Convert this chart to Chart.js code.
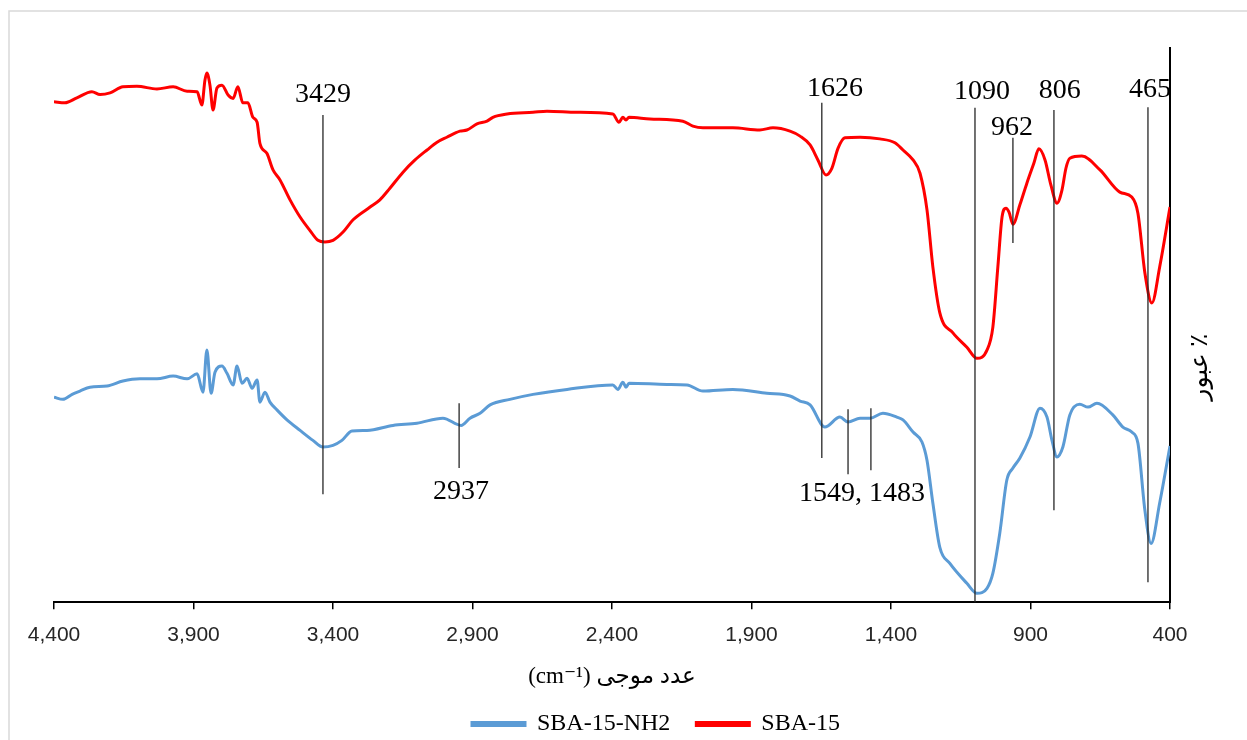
<!DOCTYPE html>
<html>
<head>
<meta charset="utf-8">
<script src="https://cdn.jsdelivr.net/npm/chart.js@4/dist/chart.umd.min.js"></script>
<style>
    html, body { margin: 0; padding: 0; background: #fff; }
    #wrap { width: 1247px; height: 740px; position: relative; }
</style>
</head>
<body>
<div id="wrap"><canvas id="ftirChart" width="1247" height="740"></canvas></div>
<script>
// SBA-15 (red) - wavenumber (cm-1) and transmittance
const redWave = [4400, 4361, 4318, 4264, 4235, 4199, 4153, 4103, 4031, 3973, 3923, 3887, 3870, 3859, 3852, 3841, 3830, 3816, 3798, 3776,
    3758, 3741, 3723, 3705, 3687, 3672, 3662, 3637, 3615, 3590, 3554, 3518, 3483, 3454, 3429, 3400, 3364, 3328, 3267, 3232,
    3196, 3149, 3106, 3063, 3027, 2992, 2945, 2920, 2884, 2848, 2827, 2776, 2683, 2633, 2526, 2397, 2375, 2361, 2350, 2339,
    2264, 2146, 2110, 2074, 1967, 1870, 1823, 1762, 1726, 1690, 1662, 1633, 1612, 1590, 1565, 1511, 1440, 1386, 1357, 1321,
    1296, 1271, 1250, 1225, 1178, 1128, 1092, 1056, 1035, 1017, 1002, 988, 977, 963, 938, 913, 888, 870, 848, 827,
    805, 787, 773, 759, 716, 651, 580, 537, 515, 490, 465, 437, 400];
const redT = [90.3, 90.1, 91.0, 92.1, 91.6, 91.9, 93.0, 93.1, 92.6, 93.0, 92.2, 92.1, 89.7, 94.2, 95.5, 93.3, 88.8, 92.8, 93.3, 91.5,
    90.9, 93.0, 90.1, 90.1, 87.5, 86.6, 82.8, 81.0, 78.0, 76.2, 72.6, 69.5, 67.1, 65.3, 65.0, 65.3, 66.8, 69.0, 71.3, 72.6,
    74.7, 77.6, 79.8, 81.6, 83.0, 83.9, 85.0, 85.2, 86.3, 86.8, 87.5, 88.1, 88.4, 88.6, 88.4, 88.1, 86.6, 87.5, 87.0, 87.5,
    87.2, 86.8, 85.9, 85.6, 85.6, 85.2, 85.6, 85.0, 84.1, 82.5, 79.8, 77.1, 78.3, 81.9, 83.8, 83.9, 83.6, 82.9, 81.6, 79.8,
    77.4, 70.8, 60.5, 52.2, 48.6, 46.0, 44.0, 45.5, 49.6, 60.5, 69.5, 71.1, 70.4, 68.2, 71.7, 75.6, 79.2, 81.8, 79.8, 75.3,
    72.0, 74.4, 78.3, 80.1, 80.5, 78.0, 74.0, 73.1, 70.2, 59.4, 54.0, 60.5, 71.3];

// SBA-15-NH2 (blue)
const blueWave = [4400, 4368, 4335, 4307, 4271, 4210, 4153, 4092, 4031, 3973, 3923, 3887, 3866, 3852, 3837, 3823, 3798, 3780, 3758, 3744,
    3726, 3708, 3690, 3672, 3662, 3644, 3626, 3601, 3565, 3518, 3472, 3436, 3400, 3368, 3332, 3278, 3185, 3099, 3006, 2941,
    2909, 2873, 2837, 2766, 2683, 2561, 2397, 2379, 2361, 2350, 2339, 2203, 2131, 2074, 1967, 1845, 1762, 1726, 1690, 1637,
    1583, 1554, 1511, 1475, 1429, 1379, 1357, 1321, 1289, 1271, 1250, 1225, 1189, 1128, 1092, 1056, 1035, 1010, 985, 963,
    938, 902, 866, 841, 823, 805, 784, 759, 723, 694, 662, 605, 569, 537, 515, 490, 468, 437, 400];
const blueT = [37.0, 36.6, 37.5, 38.1, 38.8, 39.0, 39.9, 40.3, 40.3, 40.8, 40.3, 41.2, 37.9, 45.5, 37.7, 41.5, 42.6, 41.3, 39.2, 42.6,
    39.5, 40.4, 38.6, 40.1, 36.1, 37.9, 36.1, 34.7, 32.9, 31.0, 29.2, 28.0, 28.3, 29.2, 30.9, 31.0, 31.9, 32.3, 33.2, 31.9,
    33.2, 34.1, 35.6, 36.6, 37.5, 38.4, 39.2, 38.4, 39.7, 38.8, 39.5, 39.3, 39.2, 38.1, 38.4, 37.7, 37.2, 36.3, 35.6, 31.6,
    33.4, 32.5, 33.2, 33.2, 34.1, 33.4, 32.9, 30.7, 28.9, 25.6, 17.9, 9.9, 7.0, 3.4, 1.6, 2.5, 5.2, 12.5, 22.0, 24.2,
    26.0, 29.8, 35.0, 33.4, 29.2, 26.2, 28.0, 33.8, 35.7, 35.2, 35.9, 33.8, 31.6, 30.7, 28.7, 16.6, 10.6, 17.9, 28.2];

const xTicks = [4400, 3900, 3400, 2900, 2400, 1900, 1400, 900, 400];

// peak marker lines (wavenumber, transmittance from / to)
const markWave = [3436, 1648, 1099, 963, 816, 479, 2948, 1554, 1472];
const markTop = [87.9, 90.1, 89.2, 83.8, 88.8, 89.3, 35.9, 34.8, 35.0];
const markBottom = [19.5, 26.0, 0, 64.8, 16.6, 3.6, 24.2, 23.1, 23.8];

// peak labels
const peakText = ['3429', '1626', '1090', '962', '806', '465', '2937', '1549, 1483'];
const peakWave = [3436, 1601, 1074, 966, 795, 472, 2941, 1504];
const peakT = [91.6, 92.7, 92.1, 85.6, 92.3, 92.5, 19.9, 19.6];

function toPoints(xs, ys) {
    return xs.map((x, i) => ({ x: x, y: ys[i] }));
}

const peakMarks = {
    id: 'peakMarks',
    afterDatasetsDraw(chart) {
        const ctx = chart.ctx;
        const xs = chart.scales.x, ys = chart.scales.y;
        ctx.save();
        ctx.strokeStyle = '#262626';
        ctx.lineWidth = 1.3;
        markWave.forEach((w, i) => {
            const px = xs.getPixelForValue(w);
            ctx.beginPath();
            ctx.moveTo(px, ys.getPixelForValue(markTop[i]));
            ctx.lineTo(px, ys.getPixelForValue(markBottom[i]));
            ctx.stroke();
        });
        ctx.fillStyle = '#000';
        ctx.font = '28px "Liberation Serif", "Times New Roman", serif';
        ctx.textAlign = 'center';
        ctx.textBaseline = 'middle';
        peakText.forEach((t, i) => {
            ctx.fillText(t, xs.getPixelForValue(peakWave[i]), ys.getPixelForValue(peakT[i]));
        });
        ctx.restore();
    }
};

// frame, right-hand axis title and legend position
const decor = {
    id: 'decor',
    beforeDraw(chart) {
        const ctx = chart.ctx;
        ctx.save();
        ctx.fillStyle = '#fff';
        ctx.fillRect(0, 0, chart.width, chart.height);
        ctx.strokeStyle = '#d9d9d9';
        ctx.lineWidth = 1.5;
        ctx.beginPath();
        ctx.moveTo(9, chart.height);
        ctx.lineTo(9, 11);
        ctx.lineTo(chart.width, 11);
        ctx.stroke();
        ctx.restore();
    },
    afterLayout(chart) {
        chart.legend.left += 44;
        chart.legend.right += 44;
        chart.legend.top -= 9;
        chart.legend.bottom -= 9;
    },
    afterDraw(chart) {
        const ctx = chart.ctx;
        const area = chart.chartArea;
        ctx.save();
        ctx.translate(area.right + 30, (area.top + area.bottom) / 2 + 42);
        ctx.rotate(-Math.PI / 2);
        ctx.direction = 'rtl';
        ctx.fillStyle = '#000';
        ctx.font = '25px "Liberation Serif", "DejaVu Sans", serif';
        ctx.textAlign = 'center';
        ctx.textBaseline = 'middle';
        ctx.fillText('٪ عبور', 0, 0);
        ctx.restore();
    }
};

new Chart(document.getElementById('ftirChart'), {
    type: 'line',
    data: {
        datasets: [{
            label: 'SBA-15-NH2',
            data: toPoints(blueWave, blueT),
            borderColor: '#5B9BD5',
            backgroundColor: '#5B9BD5',
            borderWidth: 3,
            pointRadius: 0,
            cubicInterpolationMode: 'monotone'
        }, {
            label: 'SBA-15',
            data: toPoints(redWave, redT),
            borderColor: '#FF0000',
            backgroundColor: '#FF0000',
            borderWidth: 3,
            pointRadius: 0,
            cubicInterpolationMode: 'monotone'
        }]
    },
    options: {
        responsive: false,
        animation: false,
        layout: {
            padding: { top: 48, left: 54, right: 77, bottom: -15 }
        },
        scales: {
            x: {
                type: 'linear',
                reverse: true,
                min: 400,
                max: 4400,
                afterBuildTicks: axis => {
                    axis.ticks = xTicks.map(v => ({ value: v }));
                },
                ticks: {
                    color: '#262626',
                    padding: 13,
                    maxRotation: 0,
                    font: { family: '"Liberation Sans", Arial, sans-serif', size: 21 },
                    callback: v => v.toLocaleString('en-US')
                },
                grid: {
                    drawOnChartArea: false,
                    drawTicks: true,
                    tickLength: 7,
                    color: '#000',
                    lineWidth: 1.5
                },
                border: { display: true, color: '#000', width: 2 },
                title: {
                    display: true,
                    text: '(cm⁻¹) عدد موجی',
                    color: '#000',
                    font: { family: '"Liberation Serif", "DejaVu Sans", serif', size: 23 },
                    padding: { top: 3, bottom: 4 }
                }
            },
            y: {
                position: 'right',
                min: 0,
                max: 100,
                ticks: { display: false },
                grid: { display: false, drawTicks: false },
                border: { display: true, color: '#000', width: 2 }
            }
        },
        plugins: {
            legend: {
                position: 'bottom',
                labels: {
                    color: '#000',
                    boxWidth: 53,
                    boxHeight: 3,
                    padding: 26,
                    font: { family: '"Liberation Serif", "Times New Roman", serif', size: 24 }
                }
            },
            tooltip: { enabled: false }
        }
    },
    plugins: [peakMarks, decor]
});
</script>
</body>
</html>
